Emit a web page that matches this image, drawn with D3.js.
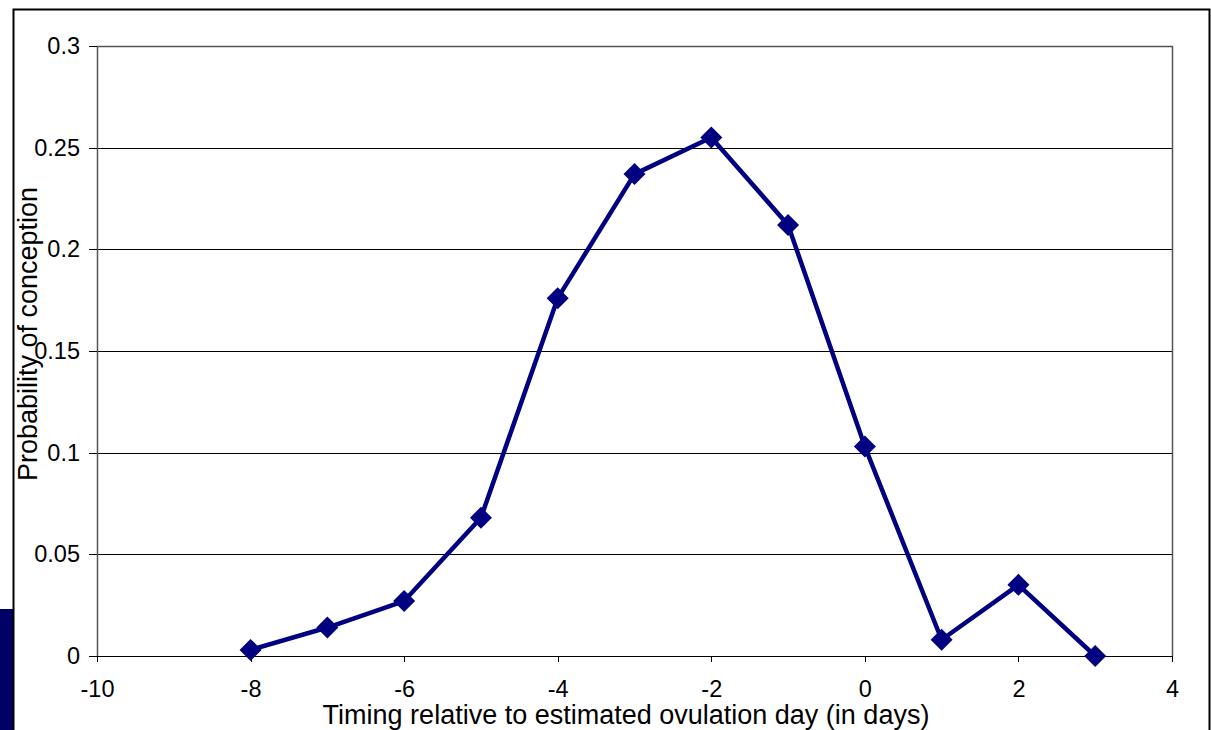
<!DOCTYPE html>
<meta charset="utf-8">
<style>
body { margin: 0; background: #fff; }
text { font-family: "Liberation Sans", Arial, sans-serif; fill: #000; }
.axis path, .axis line { stroke: #000; shape-rendering: crispEdges; }
.grid line { stroke: #000; stroke-width: 1px; shape-rendering: crispEdges; }
</style>
<body>
<script src="https://cdn.jsdelivr.net/npm/d3@7"></script>
<script>
var days = [-8, -7, -6, -5, -4, -3, -2, -1, 0, 1, 2, 3];
var probs = [0.003, 0.014, 0.027, 0.068, 0.176, 0.237, 0.255, 0.212, 0.103, 0.008, 0.035, 0];
var xTicks = [-10, -8, -6, -4, -2, 0, 2, 4];
var yTicks = [0, 0.05, 0.1, 0.15, 0.2, 0.25, 0.3];

var width = 1211,
    height = 730;

var plotLeft = 97, plotRight = 1172, plotTop = 46, plotBottom = 656;

var svg = d3.select("body").append("svg")
    .attr("width", width)
    .attr("height", height);

// outer chart frame and the navy strip on the left
svg.append("rect")
    .attr("x", 0).attr("y", 609).attr("width", 13).attr("height", 121)
    .attr("fill", "#000066");
svg.append("path")
    .attr("d", "M13.5,730V9.5H1209.5V730")
    .attr("fill", "none").attr("stroke", "#000").attr("stroke-width", 2);

var x = d3.scaleLinear().domain([-10, 4]).range([plotLeft, plotRight]);
var y = d3.scaleLinear().domain([0, 0.3]).range([plotBottom, plotTop]);

// gridlines
svg.append("g").attr("class", "grid")
  .selectAll("line")
    .data(yTicks.slice(1))
  .enter().append("line")
    .attr("x1", plotLeft).attr("x2", plotRight)
    .attr("y1", function(d) { return Math.round(y(d)) + 0.5; })
    .attr("y2", function(d) { return Math.round(y(d)) + 0.5; });

// plot border (left, top, right)
svg.append("path")
    .attr("d", "M" + (plotLeft + 0.5) + "," + plotBottom + "V" + (plotTop + 0.5) + "H" + (plotRight + 0.5) + "V" + plotBottom)
    .attr("fill", "none").attr("stroke", "#555").attr("stroke-width", 1.5);

var yAxis = svg.append("g").attr("class", "axis")
    .attr("transform", "translate(" + plotLeft + ",0)")
    .call(d3.axisLeft(y).tickValues(yTicks).tickSize(8).tickPadding(9)
      .tickFormat(function(d) { return String(+d.toFixed(2)); }));
yAxis.select(".domain").remove();
yAxis.selectAll(".tick line").attr("stroke", "#555");
yAxis.selectAll("text").style("font-size", "23.5px");

var xAxis = svg.append("g").attr("class", "axis")
    .attr("transform", "translate(0," + plotBottom + ")")
    .call(d3.axisBottom(x).tickValues(xTicks).tickSize(6).tickSizeOuter(0)
      .tickFormat(function(d) { return String(d); }));
xAxis.select(".domain").attr("stroke-width", 1.5);
xAxis.selectAll(".tick line").attr("stroke", "#555");
xAxis.selectAll("text")
    .attr("y", 41).attr("dy", null)
    .style("font-size", "23.5px");

// series line
var line = d3.line()
    .x(function(d, i) { return x(days[i]); })
    .y(function(d) { return y(d); });

svg.append("path")
    .datum(probs)
    .attr("d", line)
    .attr("fill", "none")
    .attr("stroke", "#000080")
    .attr("stroke-width", 4.5)
    .attr("stroke-linejoin", "round");

svg.selectAll(".marker")
    .data(probs)
  .enter().append("path")
    .attr("class", "marker")
    .attr("d", "M0,-11L11,0L0,11L-11,0Z")
    .attr("fill", "#000080")
    .attr("transform", function(d, i) { return "translate(" + x(days[i]) + "," + y(d) + ")"; });

// axis titles
svg.append("text")
    .attr("x", 626).attr("y", 724)
    .attr("text-anchor", "middle")
    .style("font-size", "27px")
    .text("Timing relative to estimated ovulation day (in days)");

svg.append("text")
    .attr("transform", "translate(37,334)rotate(-90)")
    .attr("text-anchor", "middle")
    .style("font-size", "27px")
    .text("Probability of conception");
</script>
